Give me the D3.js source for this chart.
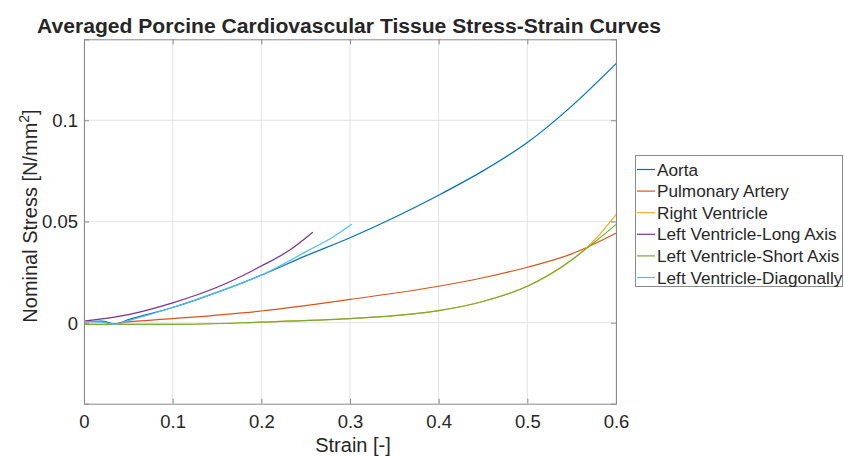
<!DOCTYPE html>
<html lang="en">
<head>
<meta charset="utf-8">
<title>Stress-Strain Curves</title>
<style>
    body { margin: 0; background: #fff; }
    text { font-family: "Liberation Sans", Arial, Helvetica, sans-serif; fill: #262626; }
</style>
<script src="https://cdn.jsdelivr.net/npm/d3@7"></script>
</head>
<body>
<svg width="844" height="457"></svg>
<script>
    // Data
    const seriesNames = ["Aorta", "Pulmonary Artery", "Right Ventricle",
        "Left Ventricle-Long Axis", "Left Ventricle-Short Axis", "Left Ventricle-Diagonally"];

    const aortaStrain = [0, 0.02, 0.035, 0.05, 0.1, 0.15, 0.2, 0.25, 0.3, 0.35, 0.4, 0.45, 0.5, 0.55, 0.6];
    const aortaStress = [0.0005, 0.0008, -0.0006, 0.0015, 0.0075, 0.015, 0.0235, 0.033, 0.042, 0.052, 0.063, 0.075, 0.089, 0.107, 0.128];

    const pulmStrain = [0, 0.02, 0.03, 0.045, 0.1, 0.2, 0.3, 0.4, 0.45, 0.5, 0.55, 0.6];
    const pulmStress = [0.0006, 0.0006, -0.0006, 0.0002, 0.002, 0.0058, 0.0115, 0.018, 0.0222, 0.0274, 0.034, 0.0442];

    const rvStrain = [0, 0.1, 0.2, 0.3, 0.35, 0.4, 0.45, 0.5, 0.55, 0.575, 0.6];
    const rvStress = [-0.0008, -0.0008, 0.0003, 0.002, 0.0035, 0.006, 0.0105, 0.018, 0.031, 0.0405, 0.0534];

    const lvLongStrain = [0, 0.05, 0.1, 0.15, 0.2, 0.2325, 0.258];
    const lvLongStress = [0.0008, 0.004, 0.0098, 0.0175, 0.028, 0.036, 0.0447];

    const lvShortStrain = [0, 0.1, 0.2, 0.3, 0.35, 0.4, 0.45, 0.5, 0.55, 0.575, 0.6];
    const lvShortStress = [-0.0008, -0.0008, 0.0003, 0.002, 0.0035, 0.006, 0.0105, 0.018, 0.031, 0.0395, 0.0485];

    const lvDiagStrain = [0, 0.02, 0.035, 0.05, 0.1, 0.15, 0.2, 0.25, 0.281, 0.302];
    const lvDiagStress = [0.0005, 0.0003, -0.0008, 0.001, 0.0075, 0.015, 0.0235, 0.035, 0.0424, 0.0486];

    const xTicks = [0, 0.1, 0.2, 0.3, 0.4, 0.5, 0.6];
    const yTicks = [0, 0.05, 0.1];
    const colors = ["#0072BD", "#D95319", "#EDB120", "#7E2F8E", "#77AC30", "#4DBEEE"];

    const series = [
        [aortaStrain, aortaStress],
        [pulmStrain, pulmStress],
        [rvStrain, rvStress],
        [lvLongStrain, lvLongStress],
        [lvShortStrain, lvShortStress],
        [lvDiagStrain, lvDiagStress]
    ].map(([xs, ys], i) => ({ name: seriesNames[i], color: colors[i], pts: xs.map((x, j) => [x, ys[j]]) }));

    const svg = d3.select("svg");
    const pLeft = 84, pRight = 616, pTop = 39.3, pBottom = 403.7;

    const x = d3.scaleLinear().domain([0, 0.6]).range([pLeft, pRight]);
    const y = d3.scaleLinear().domain([-0.04, 0.14]).range([pBottom, pTop]);

    svg.append("rect").attr("width", 844).attr("height", 457).attr("fill", "#fff");

    // grid
    svg.append("g").selectAll("line").data(xTicks).join("line")
        .attr("x1", d => x(d)).attr("x2", d => x(d)).attr("y1", pTop).attr("y2", pBottom)
        .attr("stroke", "#e3e3e3").attr("stroke-width", 1);
    svg.append("g").selectAll("line").data(yTicks).join("line")
        .attr("y1", d => y(d)).attr("y2", d => y(d)).attr("x1", pLeft).attr("x2", pRight)
        .attr("stroke", "#e3e3e3").attr("stroke-width", 1);

    // curves
    const line = d3.line().x(d => x(d[0])).y(d => y(d[1])).curve(d3.curveMonotoneX);
    svg.append("g").selectAll("path").data(series).join("path")
        .attr("d", d => line(d.pts))
        .attr("fill", "none").attr("stroke", d => d.color).attr("stroke-width", 1.2);

    // axes (ticks inward, box on)
    const axisColor = "#8a8a8a";
    const xAxis = svg.append("g").attr("transform", `translate(0,${pBottom})`)
        .call(d3.axisBottom(x).tickValues(xTicks).tickSize(-5).tickPadding(11).tickFormat(d3.format("")));
    const yAxis = svg.append("g").attr("transform", `translate(${pLeft},0)`)
        .call(d3.axisLeft(y).tickValues(yTicks).tickSize(-5).tickPadding(6).tickFormat(d3.format("")));
    const xTop = svg.append("g").attr("transform", `translate(0,${pTop})`)
        .call(d3.axisTop(x).tickValues(xTicks).tickSize(-5).tickFormat(""));
    const yRight = svg.append("g").attr("transform", `translate(${pRight},0)`)
        .call(d3.axisRight(y).tickValues(yTicks).tickSize(-5).tickFormat(""));
    [xAxis, yAxis, xTop, yRight].forEach(a => {
        a.select(".domain").attr("stroke", axisColor);
        a.selectAll(".tick line").attr("stroke", axisColor);
        a.selectAll(".tick text").attr("fill", "#262626").style("font-size", "18.5px")
            .style("font-family", '"Liberation Sans", Arial, sans-serif');
    });
    yAxis.selectAll(".tick text").attr("dy", "0.35em");
    xAxis.selectAll(".tick text").attr("dy", "0.71em");

    // title and labels
    svg.append("text").attr("x", 37).attr("y", 33)
        .style("font-size", "20px").style("font-weight", "bold").attr("fill", "#000")
        .attr("textLength", 624).attr("lengthAdjust", "spacingAndGlyphs")
        .text("Averaged Porcine Cardiovascular Tissue Stress-Strain Curves");

    svg.append("text").attr("x", 353).attr("y", 452)
        .attr("text-anchor", "middle").style("font-size", "20px")
        .text("Strain [-]");

    const yl = svg.append("text")
        .attr("transform", "translate(37,216) rotate(-90)")
        .attr("text-anchor", "middle").style("font-size", "20px");
    yl.append("tspan").text("Nominal Stress [N/mm");
    yl.append("tspan").attr("dy", -8).style("font-size", "14px").text("2");
    yl.append("tspan").attr("dy", 8).text("]");

    // legend
    const lg = svg.append("g");
    lg.append("rect").attr("x", 635.5).attr("y", 155.5).attr("width", 207).attr("height", 131)
        .attr("fill", "#fff").attr("stroke", axisColor);
    const rowY = d3.scaleLinear().domain([0, 5]).range([169.5, 277.5]);
    const items = lg.selectAll("g").data(series).join("g")
        .attr("transform", (d, i) => `translate(0,${rowY(i)})`);
    items.append("line").attr("x1", 637).attr("x2", 655)
        .attr("stroke", d => d.color).attr("stroke-width", 1.2);
    items.append("text").attr("x", 657).attr("dy", "0.35em")
        .style("font-size", "17.2px").text(d => d.name);
</script>
</body>
</html>
